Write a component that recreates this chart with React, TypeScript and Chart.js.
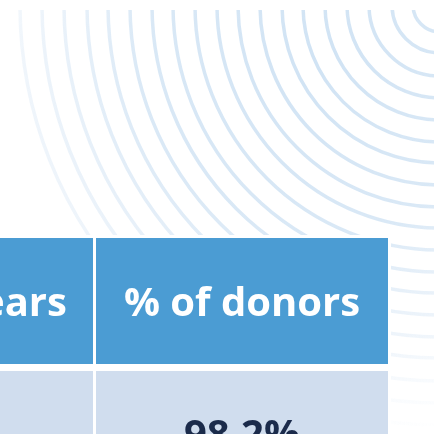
import React, { useEffect, useRef } from "react";
import { Chart, registerables } from "chart.js";

Chart.register(...registerables);

// Table content
const columnLabels = ["Years", "% of donors"];
const bodyValues = ["", "98.2%"];

// Table geometry in axis units (axis units = 1px over a 434x434 plot)
const columnStarts = [-70, 96];
const columnEnds = [93, 388];
const rowStarts = [238, 371];
const rowEnds = [364, 494];

// Decorative concentric arcs
const ringCenterX = [440];
const ringCenterY = [5];
const ringRadii = [27, 48, 71, 93, 115, 137, 158, 180, 202, 223, 245, 267, 288, 310, 332, 353, 376, 398, 420];
const patternBounds = [18, 10, 434, 434];

const headerColor = "rgb(75,156,211)";
const bodyColor = "rgb(208,221,238)";
const bodyTextColor = "rgb(27,43,75)";
const fontFamily = "'Open Sans', 'Noto Sans', sans-serif";

const tablePlugin = {
  id: "tablePlugin",
  beforeDraw(chart: any) {
    const { ctx, scales } = chart;
    const x = scales.x;
    const y = scales.y;
    ctx.save();
    ctx.fillStyle = "#ffffff";
    ctx.fillRect(0, 0, chart.width, chart.height);

    const px0 = x.getPixelForValue(patternBounds[0]);
    const py0 = y.getPixelForValue(patternBounds[1]);
    const px1 = x.getPixelForValue(patternBounds[2]);
    const py1 = y.getPixelForValue(patternBounds[3]);
    ctx.beginPath();
    ctx.rect(px0, py0, px1 - px0, py1 - py0);
    ctx.clip();
    const cx = x.getPixelForValue(ringCenterX[0]);
    const cy = y.getPixelForValue(ringCenterY[0]);
    const grad = ctx.createRadialGradient(320, 60, 0, 320, 60, 390);
    grad.addColorStop(0, "rgba(200,222,242,0.85)");
    grad.addColorStop(0.45, "rgba(205,225,243,0.75)");
    grad.addColorStop(0.75, "rgba(215,230,245,0.4)");
    grad.addColorStop(1, "rgba(230,240,250,0)");
    ctx.strokeStyle = grad;
    ctx.lineWidth = 3.5;
    ctx.filter = "blur(0.7px)";
    ringRadii.forEach((r) => {
      const rp = Math.abs(x.getPixelForValue(r) - x.getPixelForValue(0));
      ctx.beginPath();
      ctx.arc(cx, cy, rp, 0, Math.PI * 2);
      ctx.stroke();
    });
    ctx.filter = "none";
    ctx.restore();
  },
  afterDraw(chart: any) {
    const { ctx, scales } = chart;
    const x = scales.x;
    const y = scales.y;
    ctx.save();
    const tx0 = x.getPixelForValue(columnStarts[0]);
    const tx1 = x.getPixelForValue(columnEnds[columnEnds.length - 1]);
    const ty0 = y.getPixelForValue(rowStarts[0]);
    const ty1 = y.getPixelForValue(rowEnds[rowEnds.length - 1]);
    ctx.fillStyle = "#ffffff";
    ctx.fillRect(tx0 - 3, ty0 - 3, tx1 - tx0 + 6, ty1 - ty0 + 6);

    ctx.font = `bold 40px ${fontFamily}`;
    ctx.textAlign = "center";
    ctx.textBaseline = "alphabetic";
    for (let i = 0; i < columnLabels.length; i++) {
      const cx0 = x.getPixelForValue(columnStarts[i]);
      const cx1 = x.getPixelForValue(columnEnds[i]);
      const hy0 = y.getPixelForValue(rowStarts[0]);
      const hy1 = y.getPixelForValue(rowEnds[0]);
      const by0 = y.getPixelForValue(rowStarts[1]);
      const by1 = y.getPixelForValue(rowEnds[1]);
      ctx.fillStyle = headerColor;
      ctx.fillRect(cx0, hy0, cx1 - cx0, hy1 - hy0);
      ctx.fillStyle = bodyColor;
      ctx.fillRect(cx0, by0, cx1 - cx0, by1 - by0);
    }
    for (let i = 0; i < columnLabels.length; i++) {
      const cx0 = x.getPixelForValue(columnStarts[i]);
      const cx1 = x.getPixelForValue(columnEnds[i]);
      const hy0 = y.getPixelForValue(rowStarts[0]);
      const hy1 = y.getPixelForValue(rowEnds[0]);
      const by0 = y.getPixelForValue(rowStarts[1]);
      const by1 = y.getPixelForValue(rowEnds[1]);
      ctx.fillStyle = "#ffffff";
      ctx.fillText(columnLabels[i], (cx0 + cx1) / 2, (hy0 + hy1) / 2 + 15);
      ctx.fillStyle = bodyTextColor;
      ctx.fillText(bodyValues[i], (cx0 + cx1) / 2, (by0 + by1) / 2 + 15);
    }
    ctx.restore();
  },
};

export default function App() {
  const ref = useRef<HTMLCanvasElement>(null);
  useEffect(() => {
    document.body.style.margin = "0";
    if (!ref.current) return;
    const chart = new Chart(ref.current, {
      type: "scatter",
      data: { datasets: [{ data: [], pointRadius: 0 }] },
      options: {
        responsive: false,
        maintainAspectRatio: false,
        animation: false,
        layout: { padding: 0 },
        plugins: { legend: { display: false }, tooltip: { enabled: false } },
        scales: {
          x: { type: "linear", min: 0, max: 434, display: false },
          y: { type: "linear", min: 0, max: 434, reverse: true, display: false },
        },
      },
      plugins: [tablePlugin],
    });
    return () => chart.destroy();
  }, []);
  return (
    <div style={{ position: "fixed", left: 0, top: 0, width: 434, height: 434 }}>
      <canvas ref={ref} width={434} height={434} />
    </div>
  );
}
